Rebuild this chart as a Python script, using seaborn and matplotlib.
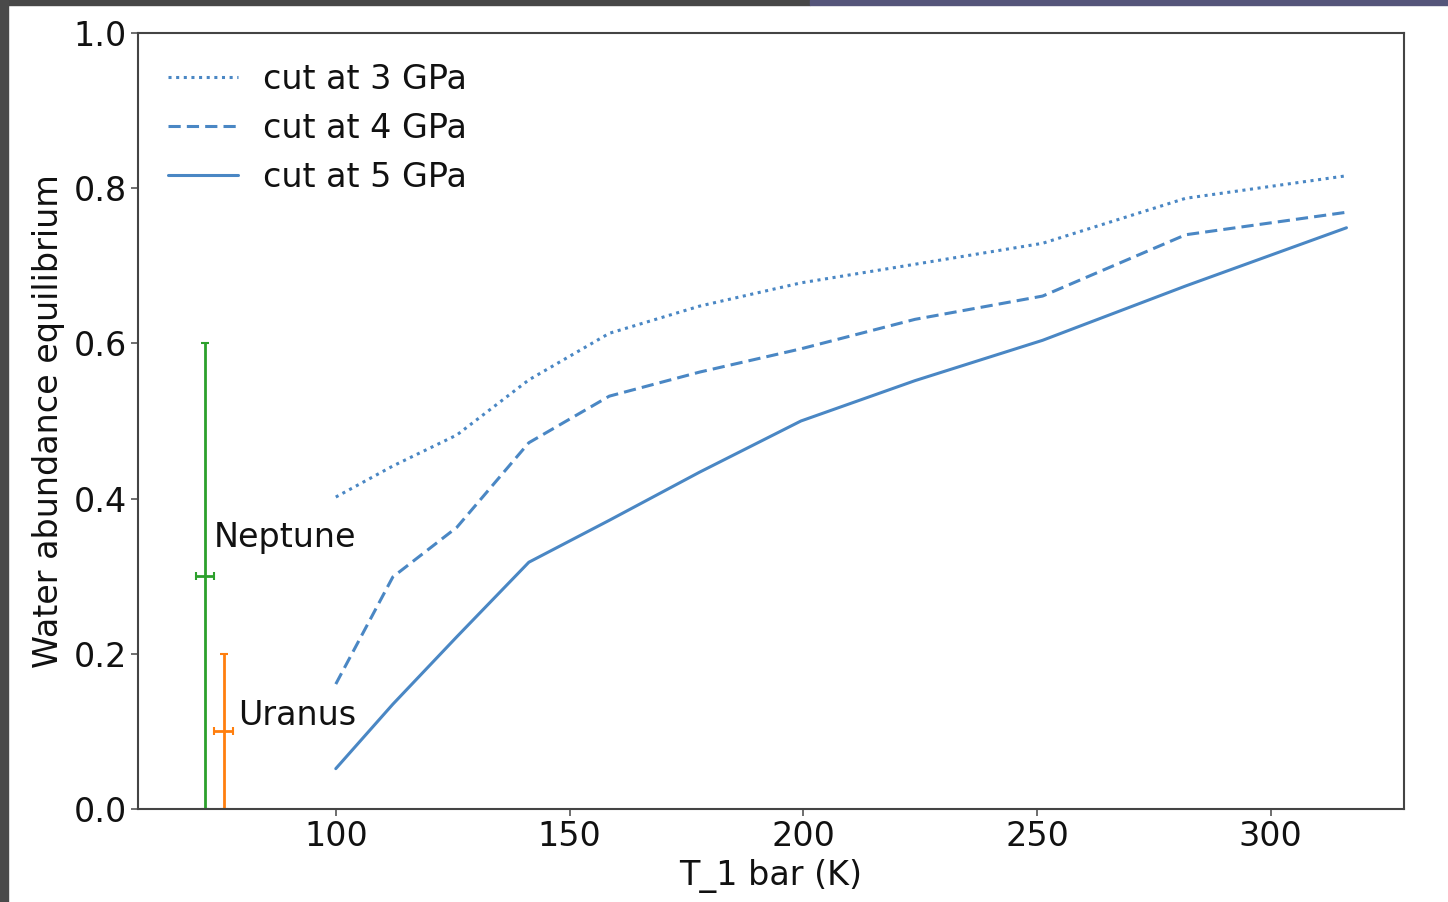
import matplotlib
matplotlib.use("Agg")
import matplotlib.pyplot as plt
import seaborn as sns
import pandas as pd
from matplotlib.patches import Rectangle

# ---- data ----
t_1bar = [100.0, 112.2, 125.9, 141.3, 158.5, 177.8, 199.5, 223.9, 251.2, 281.8, 316.2]
cut_3gpa = [0.402, 0.442, 0.482, 0.553, 0.613, 0.648, 0.678, 0.702, 0.729, 0.787, 0.816]
cut_4gpa = [0.161, 0.299, 0.363, 0.472, 0.532, 0.563, 0.593, 0.631, 0.661, 0.740, 0.769]
cut_5gpa = [0.052, 0.135, 0.222, 0.318, 0.372, 0.434, 0.500, 0.552, 0.604, 0.674, 0.749]
series_labels = ["cut at 3 GPa", "cut at 4 GPa", "cut at 5 GPa"]

planets = ["Neptune", "Uranus"]
planet_T = [72.0, 76.0]
planet_Terr = [2.0, 2.0]
planet_W = [0.3, 0.1]
planet_Werr = [0.3, 0.1]
planet_label_x = [74.0, 79.2]
planet_label_y = [0.338, 0.108]

df = pd.concat([
    pd.DataFrame({"T": t_1bar, "W": vals, "cut": lab})
    for vals, lab in zip([cut_3gpa, cut_4gpa, cut_5gpa], series_labels)
])

sns.set_style("white")
plt.rcParams["font.family"] = ["DejaVu Sans"]

FS = 24
fig = plt.figure(figsize=(14.48, 9.02), dpi=100)
ax = fig.add_axes([138 / 1448, 1 - 809 / 902, (1404 - 138) / 1448, (809 - 33) / 902])

blue = "#4a87c4"
sns.lineplot(data=df, x="T", y="W", hue="cut", style="cut",
             palette=[blue, blue, blue],
             dashes=[(1, 1.5), (4, 2), ""],
             linewidth=2.2, ax=ax, legend=True)

planet_colors = ["#2ca02c", "#ff7f0e"]
for name, x, xe, y, ye, c, lx, ly in zip(planets, planet_T, planet_Terr, planet_W,
                                          planet_Werr, planet_colors,
                                          planet_label_x, planet_label_y):
    ax.errorbar(x, y, xerr=xe, yerr=ye, color=c, capsize=3, linewidth=2.0,
                capthick=1.5)
    ax.text(lx, ly, name, fontsize=FS, color="#111111")

ax.set_ylim(0, 1.0)
ax.set_yticks([0.0, 0.2, 0.4, 0.6, 0.8, 1.0])
ax.set_xticks([100, 150, 200, 250, 300])
ax.set_xlabel("T_1 bar (K)", fontsize=FS, labelpad=4)
ax.set_ylabel("Water abundance equilibrium", fontsize=FS, labelpad=6)
ax.tick_params(axis="both", labelsize=FS, length=5, width=1.2, color="#555555",
               left=True, bottom=True, pad=3, labelcolor="#111111")
ax.xaxis.label.set_color("#111111")
ax.yaxis.label.set_color("#111111")
for s in ax.spines.values():
    s.set_color("#444444")
    s.set_linewidth(1.5)

handles, labels = ax.get_legend_handles_labels()
leg = ax.legend(handles=handles, labels=labels, loc="upper left", frameon=False,
                fontsize=FS, handlelength=2.1, handletextpad=0.75, labelspacing=0.48,
                borderaxespad=0.5)
for t in leg.get_texts():
    t.set_color("#111111")

# screenshot frame strips
fig.patches.append(Rectangle((0, 1 - 5 / 902), 810 / 1448, 5 / 902,
                             transform=fig.transFigure, color="#474747", zorder=10))
fig.patches.append(Rectangle((810 / 1448, 1 - 5 / 902), 1 - 810 / 1448, 5 / 902,
                             transform=fig.transFigure, color="#55557a", zorder=10))
fig.patches.append(Rectangle((0, 0), 8 / 1448, 1, transform=fig.transFigure,
                             color="#4a4a4a", zorder=10))

fig.savefig("out.png", dpi=100)
